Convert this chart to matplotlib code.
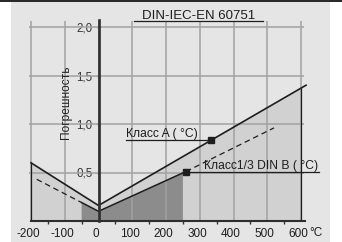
import matplotlib.pyplot as plt
from matplotlib.patches import Rectangle
from matplotlib.lines import Line2D
from matplotlib.transforms import ScaledTranslation

plt.rcParams["font.family"] = ["Liberation Sans", "DejaVu Sans"]

# ---------- DATA ----------
x_ticks = [-200, -100, 0, 100, 200, 300, 400, 500, 600]
x_labels = ["-200", "-100", "0", "100", "200", "300", "400", "500", "600"]
x_minor = [-150, -50, 50, 150, 250, 350, 450, 550]
y_ticks = [0.5, 1.0, 1.5, 2.0]
y_labels = ["0,5", "1,0", "1,5", "2,0"]

# class A tolerance band (light area)
a_t = [-200, 0, 600]
a_v = [0.60, 0.16, 1.37]
a_line_t = [-200, 0, 615]
a_line_v = [0.60, 0.16, 1.40]
a_mark = (333, 0.835)

# class 1/3 DIN B (dark area)
b_t = [-50, 0, 250]
b_v = [0.19, 0.10, 0.50]
b_line_t = [-50, 0, 259]
b_line_v = [0.19, 0.10, 0.51]
b_dash_left_t = [-183, -50]
b_dash_left_v = [0.43, 0.19]
b_dash_right_t = [259, 520]
b_dash_right_v = [0.51, 0.96]
b_mark = (259, 0.51)

# ---------- PLOT ----------
W, H = 342, 242
fig = plt.figure(figsize=(W / 100, H / 100), dpi=100)
fig.patches.append(Rectangle((11 / W, 0), 319 / W, 240 / H, transform=fig.transFigure,
                             facecolor="#e5e5e5", edgecolor="none", zorder=-5))
fig.lines.append(Line2D([0, 1], [1 - 0.7 / H] * 2, transform=fig.transFigure,
                        color="black", linewidth=1.2, zorder=-4))

ax = fig.add_axes([0, 0, 1, 1])
ax.patch.set_visible(False)
# pixel mapping: t=0 -> x 98.5, 0.3375 px per degree; v=0 -> y 221, 97 px per unit
ax.set_xlim(-98.5 / 0.3375, (W - 98.5) / 0.3375)
ax.set_ylim(-(H - 221) / 97, 221 / 97)

light = "#d1d1d1"
dark = "#8c8c8c"
ink = "#1e1e1e"

ax.fill_between(a_t, 0, a_v, facecolor=light, edgecolor="none", zorder=1)
ax.fill_between(b_t, 0, b_v, facecolor=dark, edgecolor="none", zorder=1.5)

# grid
ax.vlines(x_ticks, 0, 2.06, color="#a2a2a2", linewidth=1.1, zorder=2)
ax.hlines(y_ticks, -205, 610, color="#a2a2a2", linewidth=1.1, zorder=2)

# band borders
ax.vlines([a_t[0], a_t[-1]], 0, [a_v[0], a_v[-1]], color=ink, linewidth=0.9, zorder=3)
ax.plot(a_line_t, a_line_v, color=ink, linewidth=1.2, zorder=4)
ax.plot(b_line_t, b_line_v, color=ink, linewidth=1.1, zorder=4)
ax.plot(b_dash_left_t, b_dash_left_v, color=ink, linewidth=0.9, dashes=(4.5, 3), zorder=4)
ax.plot(b_dash_right_t, b_dash_right_v, color=ink, linewidth=0.9, dashes=(4.5, 3), zorder=4)

# labels with leader lines
ax.plot([82, a_mark[0]], [a_mark[1]] * 2, color=ink, linewidth=0.9, zorder=4)
ax.plot([b_mark[0], 653], [b_mark[1]] * 2, color=ink, linewidth=0.9, zorder=4)
ax.plot(*a_mark, marker="s", color=ink, markersize=4.3, zorder=5)
ax.plot(*b_mark, marker="s", color=ink, markersize=4.3, zorder=5)
ax.text(82, 0.871, "Класс A ( °C)", fontsize=8.7, color=ink, va="baseline", ha="left")
ax.text(312, 0.536, "Класс1/3 DIN B ( °C)", fontsize=8.7, color=ink, va="baseline", ha="left")

# axes
for s in ["top", "right"]:
    ax.spines[s].set_visible(False)
ax.spines["left"].set_position(("data", 0))
ax.spines["bottom"].set_position(("data", 0))
ax.spines["left"].set_bounds(0, 2.07)
ax.spines["bottom"].set_bounds(-200, 612)
ax.spines["left"].set_linewidth(1.9)
ax.spines["bottom"].set_linewidth(1.5)
for s in ["left", "bottom"]:
    ax.spines[s].set_color("#2e2e2e")
    ax.spines[s].set_zorder(6)

ax.set_xticks(x_ticks)
ax.set_xticklabels(x_labels)
ax.set_xticks(x_minor, minor=True)
ax.set_yticks(y_ticks)
ax.set_yticklabels(y_labels)
ax.tick_params(axis="x", which="major", length=0, pad=5, labelsize=8.5, labelcolor="#1e1e1e")
ax.tick_params(axis="x", which="minor", length=2, width=1, direction="out", color="#333333")
ax.tick_params(axis="y", length=1.5, width=1, direction="out", color="#333333",
               pad=3, labelsize=8.3, labelcolor="#333333")
# labels in the original sit a little left of their grid lines
shift = ScaledTranslation(-2.5 / 100, 0, fig.dpi_scale_trans)
for lab in ax.get_xticklabels():
    lab.set_transform(lab.get_transform() + shift)

ax.text(625, -0.155, "°C", fontsize=8.5, color="#1e1e1e", va="baseline", ha="left")
ax.text(-96, 1.227, "Погрешность", fontsize=8.6, color="#222222", rotation=90,
        ha="center", va="center")

# title, underlined
ax.text(298, 2.08, "DIN-IEC-EN 60751", fontsize=9.5, color=ink, ha="center", va="baseline")
ax.plot([106, 487], [2.06, 2.06], color=ink, linewidth=0.9)

fig.savefig("out.png", dpi=100)
